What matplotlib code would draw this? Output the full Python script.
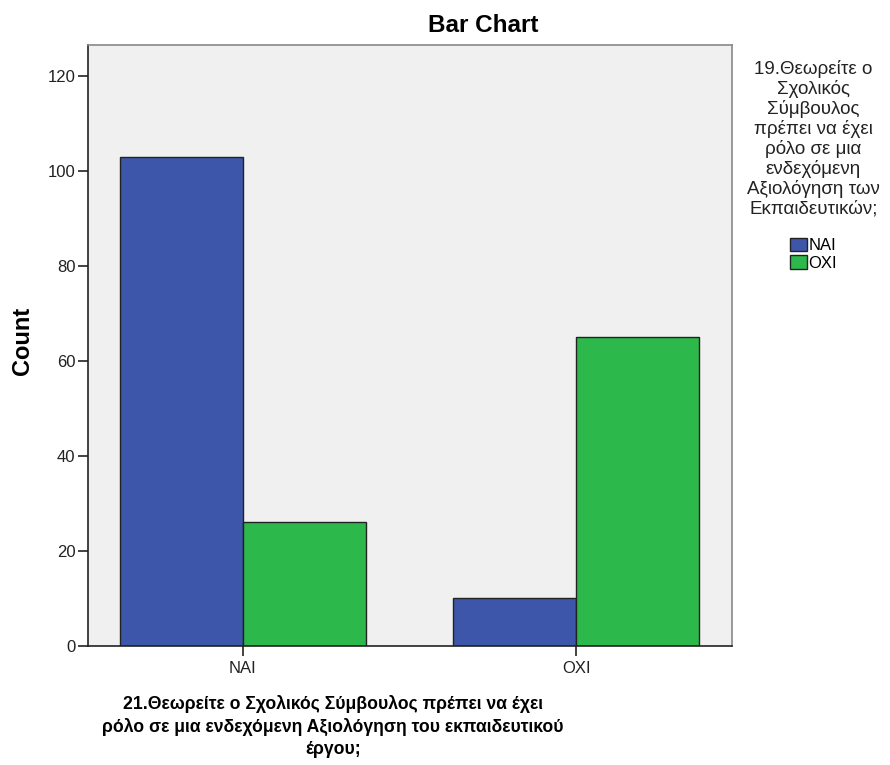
import matplotlib.pyplot as plt
import numpy as np
from matplotlib.patches import Patch

plt.rcParams['font.family'] = ['Liberation Sans', 'DejaVu Sans']

# data -------------------------
categories = ['NAI', 'OXI']
series_names = ['NAI', 'OXI']
counts_nai = [103, 10]
counts_oxi = [26, 65]
colors = ['#3d56aa', '#2db84b']

fig = plt.figure(figsize=(8.9, 7.65), dpi=100)
ax = fig.add_axes([0.0989, 0.1556, 0.7236, 0.7856])
ax.set_facecolor('#f0f0f0')

x = np.arange(len(categories))
w = 0.37
ax.bar(x - w / 2, counts_nai, w, color=colors[0], edgecolor='#222222', linewidth=1, zorder=2)
ax.bar(x + w / 2, counts_oxi, w, color=colors[1], edgecolor='#222222', linewidth=1, zorder=2)

ax.set_xlim(-0.465, 1.468)
ax.set_ylim(0, 126.5)
ax.set_yticks([0, 20, 40, 60, 80, 100, 120])
ax.set_xticks(x)
ax.set_xticklabels(categories)
ax.tick_params(axis='both', direction='out', length=7.5, width=1.2, color='#222222',
               labelsize=12, labelcolor='#222222')
ax.tick_params(axis='y', pad=1.5)
ax.tick_params(axis='x', pad=3)

for s in ['left', 'bottom']:
    ax.spines[s].set_color('#222222')
    ax.spines[s].set_linewidth(1.2)
for s in ['top', 'right']:
    ax.spines[s].set_color('#888888')
    ax.spines[s].set_linewidth(1.2)

# titles -------------------------
fig.text(0.543, 0.967, 'Bar Chart', ha='center', va='center',
         fontsize=17.5, fontweight='bold')
fig.text(0.025, 0.554, 'Count', ha='center', va='center', rotation=90,
         fontsize=17, fontweight='bold')
fig.text(0.374, 0.091,
         '21.Θεωρείτε ο Σχολικός Σύμβουλος πρέπει να έχει\n'
         'ρόλο σε μια ενδεχόμενη Αξιολόγηση του εκπαιδευτικού\nέργου;',
         ha='center', va='top', multialignment='center',
         fontsize=12.7, fontweight='bold', linespacing=1.35)

# legend -------------------------
fig.text(0.914, 0.922,
         '19.Θεωρείτε ο\nΣχολικός\nΣύμβουλος\nπρέπει να έχει\nρόλο σε μια\n'
         'ενδεχόμενη\nΑξιολόγηση των\nΕκπαιδευτικών;',
         ha='center', va='top', fontsize=13.5, color='#222222', linespacing=1.15)
handles = [Patch(facecolor=c, edgecolor='#222222', label=n) for c, n in zip(colors, series_names)]
fig.legend(handles=handles, loc='upper left', bbox_to_anchor=(0.8876, 0.6895),
           frameon=False, fontsize=12, handlelength=1.0, handleheight=0.85,
           handletextpad=0.1, labelspacing=0.15, borderpad=0, borderaxespad=0)

fig.savefig('out.png', dpi=100)
